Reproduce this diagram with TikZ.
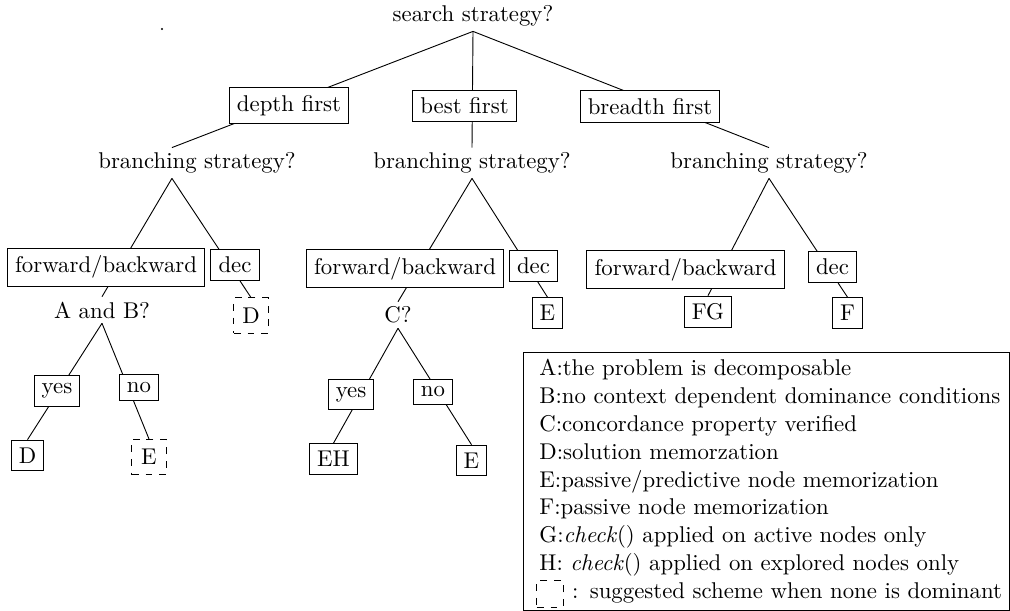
\documentclass[tikz,border=0pt]{standalone}
\usepackage{tikz}
\usetikzlibrary{positioning}
\tikzset{
  quest/.style={inner sep=2pt},
  choice/.style={draw,fill=white},
  leaf/.style={draw},
  dleaf/.style={draw,dashed,minimum width=15pt,minimum height=15.4pt},
  keybox/.style={draw,align=left,text width=199pt,inner xsep=7pt,inner ysep=3.1pt,font=\fontsize{10}{12.2}\selectfont},
}

\begin{document}
\begin{tikzpicture}[x=0.4386pt,y=-0.4386pt]
\useasboundingbox (0,0) rectangle (1010,611);
% questions
\node[quest] (root) at (473,16) {search strategy?};
\node[quest] (bs1) at (197,163) {branching strategy?};
\node[quest] (bs2) at (472,163) {branching strategy?};
\node[quest] (bs3) at (769,163) {branching strategy?};
\node[quest] (ab) at (102,310) {A and B?};
\node[quest] (cq) at (398,315) {C?};
% schemes
\node[dleaf] (d1) at (251,315.5) {D};
\node[leaf] (d2) at (27.5,455.5) {D};
\node[dleaf] (e1) at (149,457) {E};
\node[leaf] (e2) at (547.5,313) {E};
\node[leaf] (eh) at (333.5,459) {EH};
\node[leaf] (e3) at (471.5,460.5) {E};
\node[leaf] (fg) at (708,312) {FG};
\node[leaf] (f) at (847.5,313) {F};
% branches
\draw (root.south) -- ([xshift=-11pt]bs1.north);
\draw (root.south) -- (bs2.north);
\draw (root.south) -- (bs3.north);
\draw ([xshift=-11pt]bs1.south) -- (ab.north);
\draw ([xshift=-11pt]bs1.south) -- (d1.north);
\draw (ab.south) -- (d2.north);
\draw (ab.south) -- (e1.north);
\draw (bs2.south) -- (cq.north);
\draw (bs2.south) -- (e2.north);
\draw (cq.south) -- (eh.north);
\draw (cq.south) -- (e3.north);
\draw (bs3.south) -- (fg.north);
\draw (bs3.south) -- (f.north);
% choices sitting on the branches
\node[choice] (df) at (289,105.5) {depth first};
\node[choice] (bf) at (464.5,106) {best first};
\node[choice] (brf) at (650,106.5) {breadth first};
\node[choice] (fb1) at (106,267) {forward/backward};
\node[choice] (dec1) at (235,265) {dec};
\node[choice] (fb2) at (405,268.5) {forward/backward};
\node[choice] (dec2) at (533.5,266) {dec};
\node[choice] (fb3) at (685.5,269.5) {forward/backward};
\node[choice] (dec3) at (832.5,267) {dec};
\node[choice] (yes1) at (57,391) {yes};
\node[choice] (no1) at (139,387.7) {no};
\node[choice] (yes2) at (351,394.5) {yes};
\node[choice] (no2) at (433,392) {no};
% key
\node[keybox,anchor=north west] (key) at (523,352) {A:the problem is decomposable\\
\mbox{B:no context dependent dominance conditions}\\
C:concordance property verified\\
D:solution memorzation\\
E:passive/predictive node memorization\\
F:passive node memorization\\
G:\textit{check}() applied on active nodes only\\
H: \textit{check}() applied on explored nodes only\\
\mbox{\hspace*{11pt} : suggested scheme when none is dominant}};
\node[draw,dashed,minimum size=11.5pt,inner sep=0pt] (sym) at (550,594) {};
\fill (162,29) circle (0.5pt);
\end{tikzpicture}
\end{document}
